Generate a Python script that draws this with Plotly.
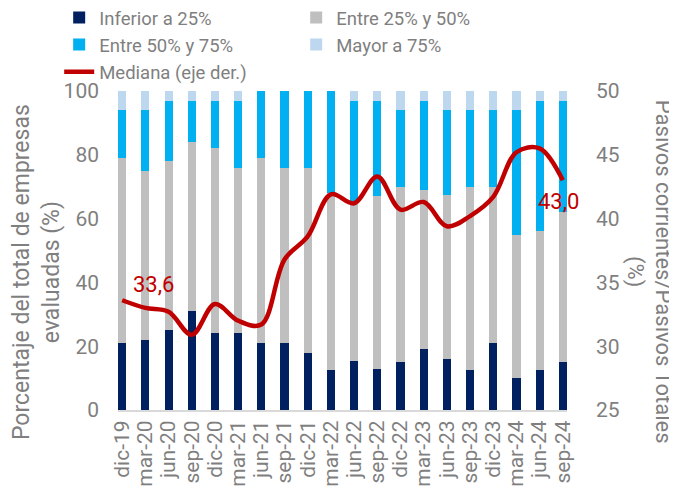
import plotly.graph_objects as go

categories = ["dic-19", "mar-20", "jun-20", "sep-20", "dic-20", "mar-21", "jun-21", "sep-21",
              "dic-21", "mar-22", "jun-22", "sep-22", "dic-22", "mar-23", "jun-23", "sep-23",
              "dic-23", "mar-24", "jun-24", "sep-24"]

inferior_25 = [21, 22, 25, 31, 24, 24, 21, 21, 18, 12.5, 15.5, 13, 15, 19, 16, 12.5, 21, 10, 12.5, 15]
entre_25_50 = [58, 53, 53, 53, 58, 52, 58, 55, 58, 55.5, 49.5, 54, 55, 50, 51.5, 57.5, 49, 45, 43.5, 47]
entre_50_75 = [15, 19, 19, 13, 15, 21, 21, 24, 24, 32, 32, 30, 24, 28, 26.5, 24, 24, 39, 41, 35]
mayor_75 = [6, 6, 3, 3, 3, 3, 0, 0, 0, 0, 3, 3, 6, 3, 6, 6, 6, 6, 3, 3]
mediana = [33.6, 33.0, 32.7, 30.9, 33.3, 32.0, 31.7, 36.8, 38.6, 41.9, 41.2, 43.3, 40.7, 41.3,
           39.4, 40.2, 41.7, 45.2, 45.5, 43.0]

left_ticks = [0, 20, 40, 60, 80, 100]
right_ticks = [25, 30, 35, 40, 45, 50]

GRAY_TXT = "#7F7F7F"
FONT = "Roboto"

fig = go.Figure()
bar_series = [
    ("Inferior a 25%", inferior_25, "#002060"),
    ("Entre 25% y 50%", entre_25_50, "#BFBFBF"),
    ("Entre 50% y 75%", entre_50_75, "#00B0F0"),
    ("Mayor a 75%", mayor_75, "#BDD7EE"),
]
for name, vals, col in bar_series:
    fig.add_trace(go.Bar(x=categories, y=vals, name=name, marker=dict(color=col, line=dict(width=0)),
                         width=0.35))

fig.add_trace(go.Scatter(x=categories, y=mediana, name="Mediana (eje der.)", yaxis="y2",
                         mode="lines", line=dict(color="#C00000", width=4.5, shape="spline", smoothing=1)))

fig.add_annotation(x=categories[0], y=mediana[0], yref="y2", text="33,6", showarrow=False,
                   xshift=31, yshift=16, font=dict(family=FONT, size=22, color="#C00000"))
fig.add_annotation(x=categories[-1], y=mediana[-1], yref="y2", text="43,0", showarrow=False,
                   xshift=-4, yshift=-21, font=dict(family=FONT, size=22, color="#C00000"))

fig.add_annotation(x=-0.1826, y=0.4326, xref="paper", yref="paper", showarrow=False, textangle=-90,
                   xanchor="center", yanchor="middle",
                   text="Porcentaje del total de empresas<br>evaluadas (%)",
                   font=dict(family=FONT, size=23, color=GRAY_TXT))
fig.add_annotation(x=1.183, y=0.4326, xref="paper", yref="paper", showarrow=False, textangle=90,
                   xanchor="center", yanchor="middle",
                   text="Pasivos corrientes/Pasivos Totales<br>(%)",
                   font=dict(family=FONT, size=22, color=GRAY_TXT))

fig.update_layout(
    width=669, height=493,
    margin=dict(l=110, r=110, t=83, b=91, autoexpand=False),
    paper_bgcolor="white", plot_bgcolor="white",
    barmode="stack",
    font=dict(family=FONT, color=GRAY_TXT),
    showlegend=True,
    legend=dict(orientation="h", xref="paper", yref="paper", x=-0.131, y=1.0,
                xanchor="left", yanchor="bottom", traceorder="normal",
                entrywidth=192, entrywidthmode="pixels", tracegroupgap=0,
                font=dict(family=FONT, size=18.5, color=GRAY_TXT), bgcolor="rgba(0,0,0,0)"),
    xaxis=dict(type="category", range=[-0.18, 19.18], showline=True, linecolor="#D9D9D9", linewidth=2,
               ticks="", tickangle=-90, showgrid=False, zeroline=False,
               tickmode="array", tickvals=categories, ticktext=categories,
               tickfont=dict(family=FONT, size=21, color=GRAY_TXT)),
    yaxis=dict(range=[0, 100], tickvals=left_ticks, showgrid=False, zeroline=False, showline=False,
               ticks="", ticklabelstandoff=18, tickfont=dict(family=FONT, size=21, color=GRAY_TXT)),
    yaxis2=dict(range=[25, 50], tickvals=right_ticks, overlaying="y", side="right", showgrid=False,
                zeroline=False, showline=False, ticks="", ticklabelstandoff=28,
                tickfont=dict(family=FONT, size=21, color=GRAY_TXT)),
)

fig.write_html("out.html")
